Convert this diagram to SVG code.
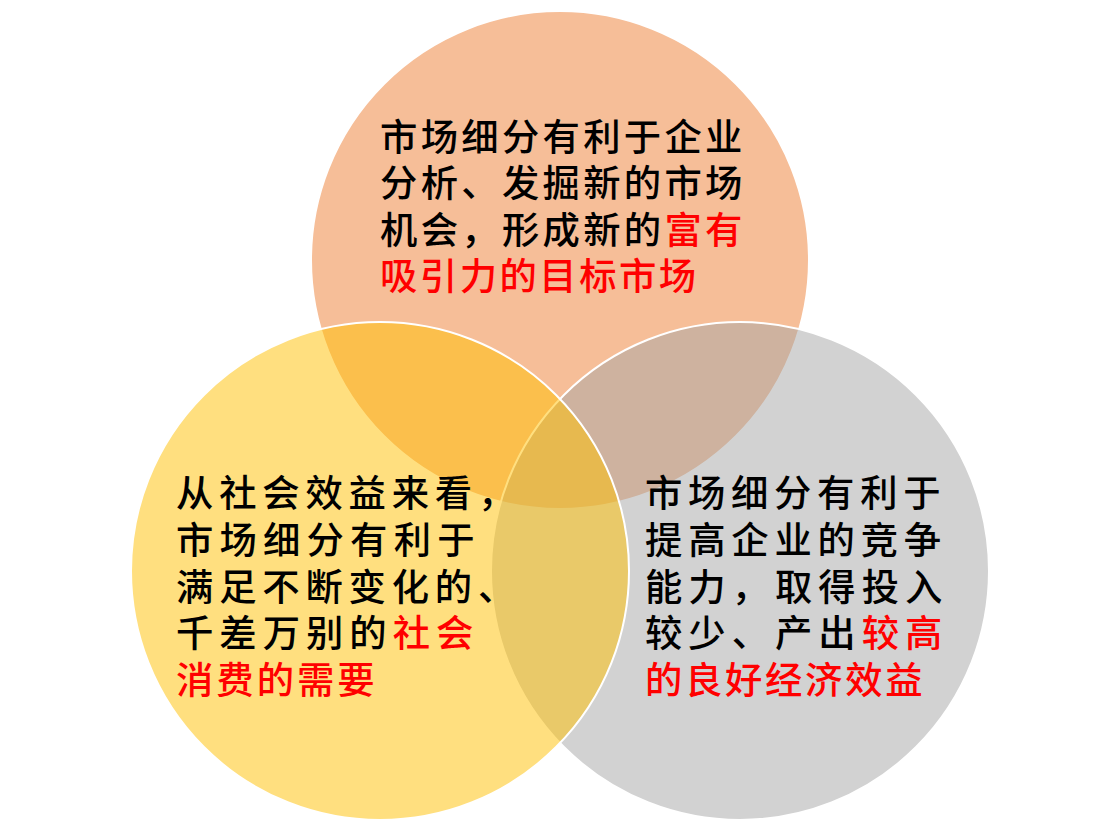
<svg xmlns="http://www.w3.org/2000/svg" width="1120" height="832" viewBox="0 0 1120 832">
<style>
.c{stroke:#FFFFFF;stroke-width:2;}
.t{font-family:'Liberation Sans','Noto Sans CJK SC',sans-serif;font-size:37.33px;font-weight:500;fill:#000000;}
.r{fill:#FF0000;}
</style>
<rect x="0" y="0" width="1120" height="832" fill="#FFFFFF"/>
<g id="node-top">
<circle class="c" cx="560" cy="260" r="249" fill="#ED7D31" fill-opacity="0.5"/>
</g>
<g id="node-right">
<circle class="c" cx="740" cy="571" r="249" fill="#A5A5A5" fill-opacity="0.5"/>
</g>
<g id="node-left">
<circle class="c" cx="380" cy="571" r="249" fill="#FFC000" fill-opacity="0.5"/>
</g>
<g id="connectors"></g>
<g id="label-top" class="t">
<text x="380" y="150.5" letter-spacing="3.3">市场细分有利于企业</text>
<text x="380" y="197" letter-spacing="3.3">分析、发掘新的市场</text>
<text x="380" y="243.5" letter-spacing="3.3">机会，形成新的<tspan class="r">富有</tspan></text>
<text x="380" y="290" letter-spacing="2.5" class="r">吸引力的目标市场</text>
</g>
<g id="label-left" class="t">
<text x="176" y="507" letter-spacing="5.8">从社会效益来看，</text>
<text x="176" y="553.75" letter-spacing="6.2">市场细分有利于</text>
<text x="176" y="600.5" letter-spacing="5.8">满足不断变化的、</text>
<text x="176" y="647.25" letter-spacing="6">千差万别的<tspan class="r">社会</tspan></text>
<text x="176" y="694" letter-spacing="3" class="r">消费的需要</text>
</g>
<g id="label-right" class="t">
<text x="645" y="507" letter-spacing="5.7">市场细分有利于</text>
<text x="645" y="553.75" letter-spacing="5.8">提高企业的竞争</text>
<text x="645" y="600.5" letter-spacing="6">能力，取得投入</text>
<text x="645" y="647.25" letter-spacing="6">较少、产出<tspan class="r">较高</tspan></text>
<text x="645" y="694" letter-spacing="2.7" class="r">的良好经济效益</text>
</g>
</svg>
